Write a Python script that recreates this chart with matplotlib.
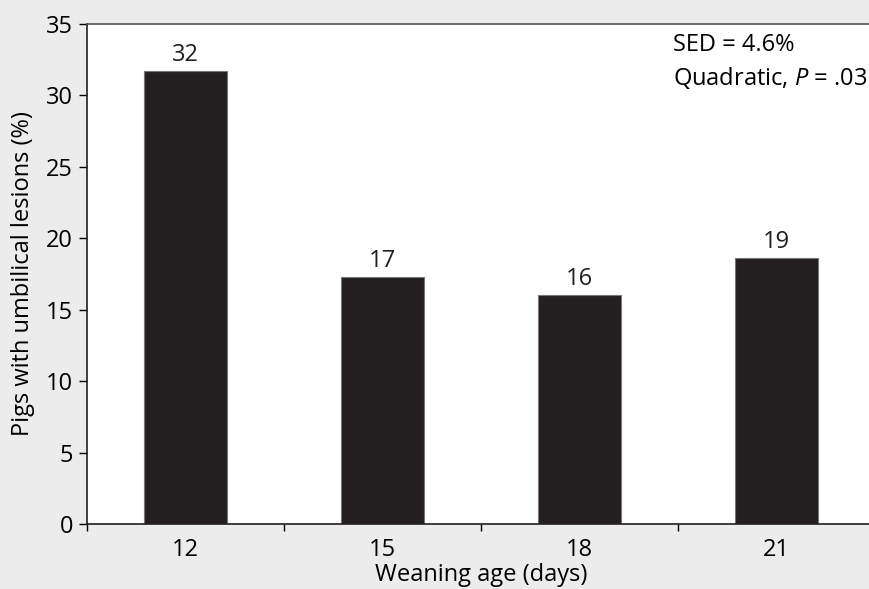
import matplotlib
matplotlib.use("Agg")
import matplotlib.pyplot as plt
import numpy as np

plt.rcParams["font.family"] = ["Open Sans", "DejaVu Sans"]
plt.rcParams["mathtext.fontset"] = "custom"
plt.rcParams["mathtext.it"] = "Open Sans:italic"

ages = ["12", "15", "18", "21"]
values = [31.7, 17.3, 16.0, 18.6]
value_labels = ["32", "17", "16", "19"]

BG = "#ececec"
BAR = "#231f20"
FS = 17

fig = plt.figure(figsize=(8.7, 5.89), dpi=100, facecolor=BG)
ax = fig.add_axes([87 / 870, 65 / 589, 788 / 870, 500 / 589])
ax.set_facecolor("white")

x = np.arange(len(ages)) + 0.5
ax.bar(x, values, width=0.417, color=BAR, edgecolor="#777777", linewidth=0.8, zorder=2)
for xi, v, lab in zip(x, values, value_labels):
    ax.text(xi, v + 0.3, lab, ha="center", va="bottom", fontsize=FS, color="#231f20")

ax.set_xlim(0, 4)
ax.set_ylim(0, 35)
ax.set_xticks(np.arange(0, 5))
ax.set_xticklabels([])
ax.set_xticks(x, minor=True)
ax.set_xticklabels(ages, minor=True)
ax.tick_params(axis="x", which="minor", length=0, pad=10, labelsize=FS)
ax.tick_params(axis="x", which="major", length=5, width=1, direction="out")
ax.set_yticks(range(0, 36, 5))
ax.tick_params(axis="y", length=6, width=1, labelsize=FS, pad=4)

for s in ["left", "bottom"]:
    ax.spines[s].set_color("#231f20")
    ax.spines[s].set_linewidth(1.2)
ax.spines["top"].set_color("#555555")
ax.spines["top"].set_linewidth(1.2)
ax.spines["right"].set_visible(False)

ax.set_xlabel("Weaning age (days)", fontsize=FS, labelpad=1)
ax.set_ylabel("Pigs with umbilical lesions (%)", fontsize=FS, labelpad=8)

ax.text(2.975, 33.5, "SED = 4.6%", fontsize=FS, ha="left", va="center")
ax.text(2.975, 31.2, "Quadratic, $\\mathit{P}$ = .03", fontsize=FS, ha="left", va="center")

fig.savefig("out.png", dpi=100, facecolor=BG)
